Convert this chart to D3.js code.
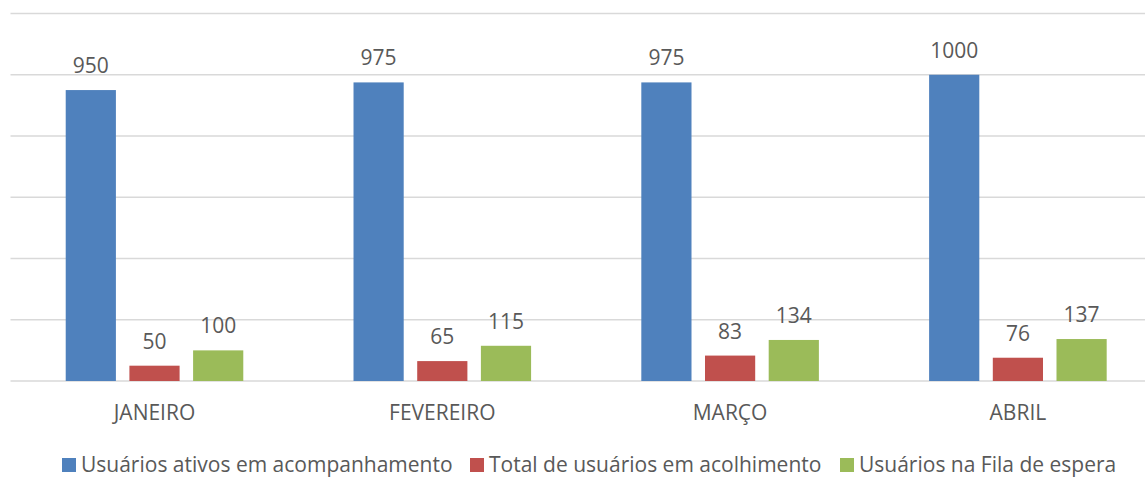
<!DOCTYPE html>
<html>
<head>
    <meta charset="utf-8" />
    <title>Usuarios</title>
    <script src="https://d3js.org/d3.v7.min.js"></script>
    <style>
    body { margin: 0; background: #fff; }
    text { font-family: "Open Sans", sans-serif; fill: #595959; }
    </style>
</head>
<body>
<div id="chart"></div>
<script>
var months = ["JANEIRO", "FEVEREIRO", "MARÇO", "ABRIL"];
var seriesNames = ["Usuários ativos em acompanhamento", "Total de usuários em acolhimento", "Usuários na Fila de espera"];
var ativos = [950, 975, 975, 1000];
var acolhimento = [50, 65, 83, 76];
var filaEspera = [100, 115, 134, 137];
var yTicks = [0, 200, 400, 600, 800, 1000, 1200];
var colors = ["#4F81BD", "#C0504D", "#9BBB59"];

var series = [ativos, acolhimento, filaEspera];
var width = 1145, height = 478;

var svg = d3.select("#chart").append("svg")
    .attr("width", width)
    .attr("height", height);

var x0 = d3.scaleBand()
    .domain(months)
    .range([10.6, 1161.8])
    .paddingInner(0.383)
    .paddingOuter(0.1915);

var x1 = d3.scaleBand()
    .domain(d3.range(series.length))
    .range([0, x0.bandwidth()])
    .paddingInner(0.212);

var y = d3.scaleLinear()
    .domain([0, 1200])
    .range([381, 13.5]);

// gridlines
svg.selectAll(".grid")
    .data(yTicks)
    .enter().append("line")
    .attr("x1", 10.5)
    .attr("x2", width)
    .attr("y1", function(d) { return y(d); })
    .attr("y2", function(d) { return y(d); })
    .style("stroke", "#D9D9D9")
    .style("stroke-width", 1.5);

var groups = svg.selectAll(".grp")
    .data(months)
    .enter().append("g")
    .attr("transform", function(d) { return "translate(" + x0(d) + ",0)"; });

groups.selectAll("rect")
    .data(function(d, i) { return series.map(function(s, j) { return {s: j, v: s[i]}; }); })
    .enter().append("rect")
    .attr("x", function(d) { return x1(d.s); })
    .attr("y", function(d) { return y(d.v); })
    .attr("width", x1.bandwidth())
    .attr("height", function(d) { return y(0) - y(d.v); })
    .style("fill", function(d) { return colors[d.s]; });

groups.selectAll(".val")
    .data(function(d, i) { return series.map(function(s, j) { return {s: j, v: s[i]}; }); })
    .enter().append("text")
    .attr("x", function(d) { return x1(d.s) + x1.bandwidth() / 2; })
    .attr("y", function(d) { return y(d.v) - 17; })
    .attr("text-anchor", "middle")
    .attr("font-size", 21)
    .text(function(d) { return d.v; });

// category labels
svg.selectAll(".cat")
    .data(months)
    .enter().append("text")
    .attr("x", function(d) { return x0(d) + x0.bandwidth() / 2; })
    .attr("y", 419.5)
    .attr("text-anchor", "middle")
    .attr("font-size", 21)
    .text(function(d) { return d; });

// legend
var legendX = [62, 470, 840];
var legend = svg.selectAll(".leg")
    .data(seriesNames)
    .enter().append("g")
    .attr("transform", function(d, i) { return "translate(" + legendX[i] + ",458)"; });

legend.append("rect")
    .attr("width", 14)
    .attr("height", 14)
    .style("fill", function(d, i) { return colors[i]; });

legend.append("text")
    .attr("x", 19)
    .attr("y", 14)
    .attr("font-size", 21)
    .text(function(d) { return d; });
</script>
</body>
</html>
